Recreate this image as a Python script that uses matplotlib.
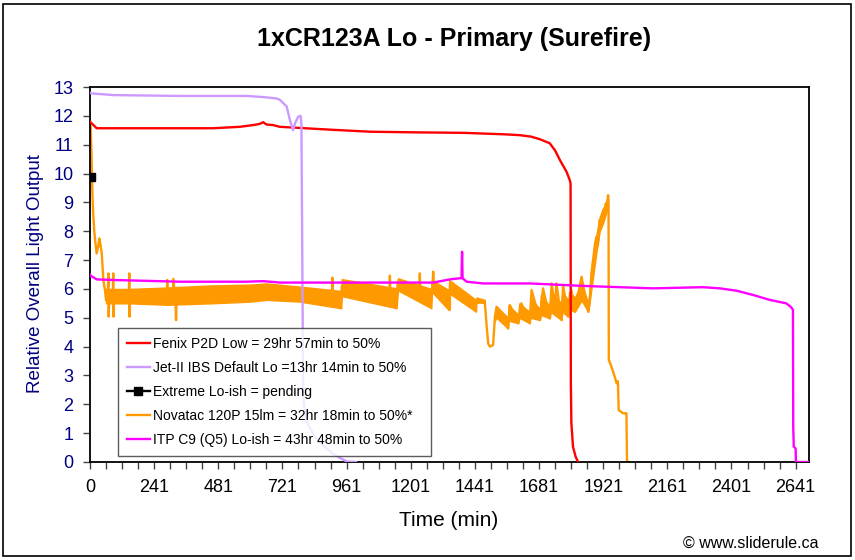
import numpy as np
import matplotlib
matplotlib.use('Agg')
import matplotlib.pyplot as plt
from matplotlib.patches import Rectangle

plt.rcParams['font.family'] = ['Liberation Sans', 'DejaVu Sans']

# ---- data (time in min, relative output) ----
fenix_t = [0, 4, 25, 200, 460, 561, 610, 635, 648, 660, 685, 710, 900, 1047, 1200,
           1400, 1550, 1608, 1650, 1683, 1720, 1740, 1758, 1783, 1795, 1798, 1799,
           1801, 1807, 1817, 1826]
fenix_v = [11.8, 11.76, 11.57, 11.57, 11.57, 11.62, 11.68, 11.72, 11.78, 11.7, 11.68,
           11.62, 11.52, 11.45, 11.43, 11.41, 11.36, 11.33, 11.28, 11.19, 11.05, 10.8,
           10.47, 10.06, 9.77, 9.66, 2.73, 1.35, 0.53, 0.18, 0.0]

jet_t = [0, 4, 86, 337, 586, 650, 700, 711, 736, 748, 760, 767, 779, 788, 791, 795,
         797, 800, 810, 840, 870, 910, 940, 960, 995]
jet_v = [12.8, 12.78, 12.72, 12.69, 12.69, 12.65, 12.6, 12.55, 12.32, 11.85, 11.5,
         11.74, 11.97, 12.0, 11.74, 6.0, 3.0, 2.0, 1.4, 0.9, 0.6, 0.28, 0.12, 0.02, 0.0]

extreme_t = [2]
extreme_v = [9.88]

# Novatac: main trace (start, spikes, late sawtooth, end)
nova_t = [0, 3, 6, 9, 12, 16, 19, 25, 31, 35, 38, 44, 50, 56, 60,
          66, 69, 70, 72, 85, 87, 88, 90, 145, 147, 148, 150,
          287, 289, 291, 310, 312, 320, 322, 324, 600, 905, 907, 909, 940,
          942, 1120, 1122, 1124, 1147, 1152, 1232, 1234, 1236, 1277,
          1282, 1284, 1286, 1344, 1346, 1348, 1440, 1477, 1480, 1485, 1490,
          1496, 1508, 1515, 1521, 1564, 1571, 1602, 1614, 1645, 1652, 1683,
          1695, 1720, 1727, 1739, 1745, 1764, 1770, 1789, 1801, 1814, 1839,
          1864, 1870, 1876, 1882, 1890, 1895, 1900, 1907, 1912, 1920, 1925,
          1930, 1934, 1938, 1940, 1941, 1951, 1963, 1970, 1975, 1978, 1994,
          2007, 2009, 2013]
nova_v = [11.8, 11.6, 10.5, 9.3, 8.6, 8.0, 7.7, 7.23, 7.5, 7.75, 7.6, 7.23, 6.3, 5.96, 5.6,
          5.7, 6.54, 5.04, 5.75, 5.7, 6.54, 5.04, 5.7, 5.7, 6.54, 5.04, 5.7,
          5.7, 6.31, 5.5, 5.6, 6.35, 5.5, 4.92, 5.7, 5.85, 5.7, 6.39, 5.7, 5.6,
          6.1, 5.8, 6.46, 5.8, 5.6, 6.25, 5.9, 6.54, 5.9, 5.6,
          6.2, 6.6, 6.2, 5.6, 5.27, 6.1, 5.5, 5.56, 5.2, 4.6, 4.1,
          4.0, 4.05, 5.04, 5.38, 4.63, 5.44, 4.81, 5.5, 4.81, 5.96, 4.92,
          6.02, 4.98, 6.19, 5.38, 6.19, 4.92, 6.13, 5.04, 5.96, 5.21, 6.42,
          5.21, 5.6, 6.54, 7.0, 7.6, 7.81, 7.5, 8.39, 8.1, 8.73, 8.5,
          8.97, 8.7, 9.25, 9.0, 3.54, 3.3, 2.96, 2.73, 2.8, 1.8, 1.69,
          1.69, 0.07, 0.0]

# Novatac: dense PWM band, lower / upper edge
band_t = [60, 150, 290, 450, 600, 660, 785, 940, 942, 1147, 1152, 1277, 1279,
          1342, 1344, 1444, 1446, 1477]
band_lo = [5.50, 5.50, 5.45, 5.50, 5.56, 5.62, 5.56, 5.33, 5.75, 5.33, 5.95, 5.33,
           5.90, 5.27, 5.85, 5.21, 5.56, 5.50]
band_hi = [6.00, 6.00, 6.05, 6.12, 6.15, 6.19, 6.08, 5.93, 6.34, 6.02, 6.37, 6.00,
           6.31, 5.96, 6.31, 5.62, 5.70, 5.62]

# Novatac: noisy band after the dip and during the late rise
band2_t = [1515, 1521, 1564, 1566, 1602, 1606, 1645, 1648, 1683, 1687, 1720, 1724,
           1764, 1767, 1789, 1793, 1814, 1839, 1864, 1876, 1895, 1907, 1920, 1930, 1938]
band2_lo = [4.9, 5.0, 4.63, 4.9, 4.81, 5.0, 4.81, 5.0, 4.92, 5.1, 4.98, 5.2,
            4.92, 5.2, 5.04, 5.3, 5.21, 5.6, 5.21, 6.0, 7.3, 8.0, 8.3, 8.6, 8.8]
band2_hi = [5.1, 5.4, 5.0, 5.44, 5.1, 5.5, 5.2, 5.7, 5.3, 5.8, 5.4, 5.9,
            5.5, 5.9, 5.6, 5.9, 5.7, 6.2, 5.5, 6.6, 7.9, 8.5, 8.8, 9.0, 9.25]

itp_t = [0, 4, 25, 86, 337, 586, 648, 711, 1159, 1284, 1346, 1384, 1390, 1392, 1394,
         1409, 1471, 1645, 1857, 1982, 2107, 2294, 2356, 2418, 2481, 2543, 2605,
         2624, 2630, 2631, 2633, 2640, 2641, 2690]
itp_v = [6.5, 6.45, 6.33, 6.31, 6.25, 6.25, 6.27, 6.22, 6.22, 6.22, 6.33, 6.37, 6.37,
         7.29, 6.37, 6.25, 6.19, 6.19, 6.1, 6.06, 6.02, 6.06, 6.02, 5.94, 5.79, 5.62,
         5.5, 5.36, 5.27, 1.22, 0.53, 0.47, 0.0, 0.0]

labels = ['Fenix P2D Low = 29hr 57min to 50%',
          'Jet-II IBS Default Lo =13hr 14min to 50%',
          'Extreme Lo-ish = pending',
          'Novatac 120P 15lm = 32hr 18min to 50%*',
          'ITP C9 (Q5) Lo-ish = 43hr 48min to 50%']
xtick_pos = [0, 240, 480, 720, 960, 1200, 1440, 1680, 1920, 2160, 2400, 2640]
xtick_lab = ['0', '241', '481', '721', '961', '1201', '1441', '1681', '1921',
             '2161', '2401', '2641']

navy = '#000080'
orange = '#FF9900'
lw = 1.7

fig = plt.figure(figsize=(8.55, 5.6), dpi=100)
ax = fig.add_axes([90/855, 1-462/560, 719/855, 375/560])

ax.fill_between(band_t, band_lo, band_hi, facecolor=orange, edgecolor=orange,
                lw=1.0, zorder=1)
ax.fill_between(band2_t, band2_lo, band2_hi, facecolor=orange, edgecolor=orange,
                lw=1.0, zorder=1)
l4, = ax.plot(nova_t, nova_v, color=orange, lw=lw, zorder=2)
l1, = ax.plot(fenix_t, fenix_v, color='#FF0000', lw=lw, zorder=3)
l2, = ax.plot(jet_t, jet_v, color='#CC99FF', lw=lw, zorder=3)
l5, = ax.plot(itp_t, itp_v, color='#FF00FF', lw=lw, zorder=4)
l3, = ax.plot(extreme_t, extreme_v, color='black', lw=lw, marker='s', ms=6, zorder=5)

ax.set_xlim(0, 2690)
ax.set_ylim(0, 13)
ax.set_yticks(range(0, 14))
ax.set_xticks(xtick_pos)
ax.set_xticklabels(xtick_lab)
ax.set_xticks(np.arange(0, 2690, 60), minor=True)
ax.tick_params(axis='x', which='both', direction='out', length=5, width=1,
               labelsize=13, pad=7, color='#444444')
ax.tick_params(axis='y', direction='out', length=5, width=1, labelsize=13,
               labelcolor=navy, pad=7, color='#444444')
for s in ax.spines.values():
    s.set_linewidth(1.3)
    s.set_color('black')

leg = ax.legend([l1, l2, l3, l4, l5], labels, loc='lower left',
                bbox_to_anchor=(28/719, 6/375, 313/719, 0.3), mode='expand',
                borderaxespad=0, fontsize=10, frameon=True, fancybox=False,
                handlelength=1.65, handletextpad=0.25, borderpad=0.65,
                labelspacing=0.72)
leg.get_frame().set_edgecolor('#333333')
leg.get_frame().set_linewidth(1.0)
leg.set_zorder(10)

fig.text(0.531, 1-39/560, '1xCR123A Lo - Primary (Surefire)', ha='center',
         va='center', fontsize=18, fontweight='bold')
fig.text(36/855, 1-274/560, 'Relative Overall Light Output', rotation=90,
         ha='center', va='center', fontsize=13.5, color=navy)
fig.text(449/855, 1-521/560, 'Time (min)', ha='center', va='center', fontsize=15)
fig.text(818/855, 1-543/560, '\u00a9 www.sliderule.ca', ha='right', va='center',
         fontsize=11.5)

fig.patches.append(Rectangle((3/855, 4/560), 848/855, 552/560, transform=fig.transFigure,
                             fill=False, edgecolor='black', lw=1.2))

fig.savefig('out.png', dpi=100)
